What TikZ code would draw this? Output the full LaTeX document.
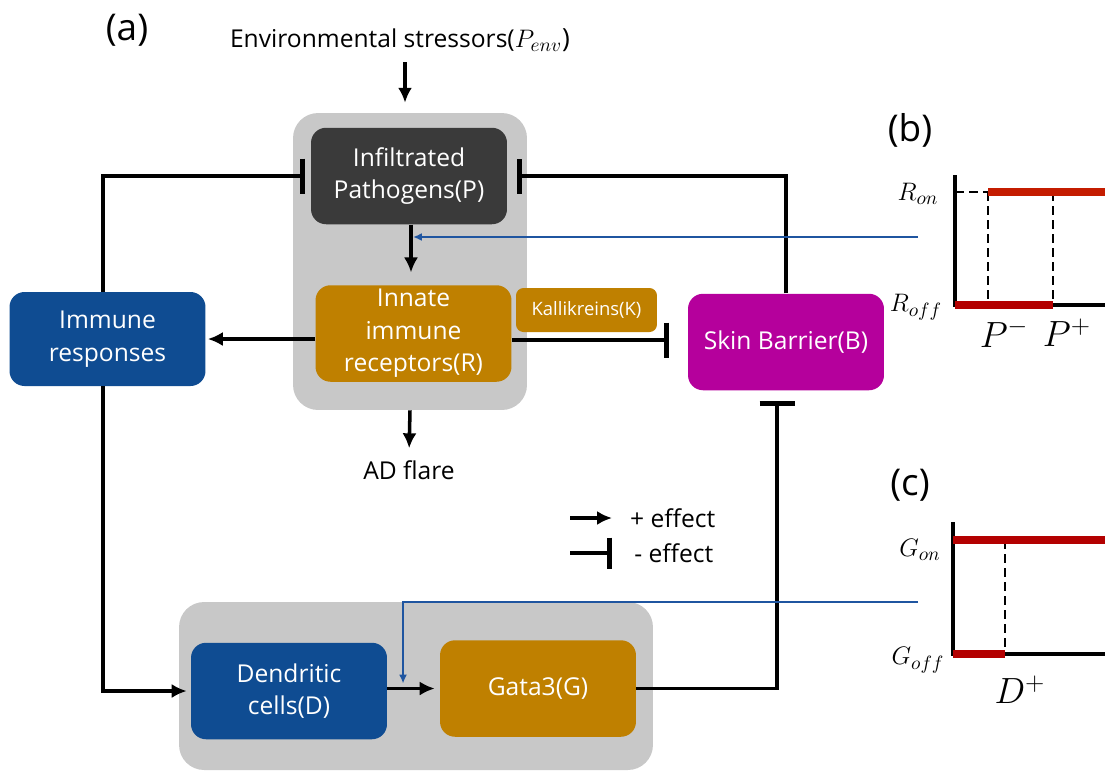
\documentclass[tikz,border=0pt]{standalone}
\usepackage{fontspec}
\setmainfont{Open Sans}
\usepackage{xcolor}
\usepackage{tikz}
\usetikzlibrary{arrows,arrows.meta,calc,positioning}

\definecolor{panelgray}{HTML}{C8C8C8}
\definecolor{pathogray}{HTML}{3A3A3A}
\definecolor{goldbox}{HTML}{BF8000}
\definecolor{navybox}{HTML}{0F4C92}
\definecolor{barrierpink}{HTML}{B5009C}
\definecolor{sigblue}{HTML}{1F55A0}
\definecolor{redtop}{HTML}{C41C00}
\definecolor{redlow}{HTML}{B30000}

\begin{document}
\begin{tikzpicture}[x=0.02cm, y=-0.02cm, >={Latex[length=8.5pt,width=8pt]},
  font=\fontsize{14}{18.5}\selectfont,
  box/.style={rounded corners=0.3cm, text=white, align=center, minimum width=3.92cm, minimum height=1.93cm, inner sep=2pt},
  patho/.style={box, fill=pathogray},
  gold/.style={box, fill=goldbox},
  navy/.style={box, fill=navybox},
  barrier/.style={box, fill=barrierpink},
  panel/.style={rounded corners=0.5cm, fill=panelgray, inner sep=0pt},
  act/.style={->, line width=2pt},
  inh/.style={-{Bar[width=0.7cm, line width=2.8pt]}, line width=2pt},
  sig/.style={-{Latex[length=5pt,width=4.5pt]}, draw=sigblue, line width=1.1pt},
  onoff/.style={line width=4.5pt},
  axis/.style={line width=1.8pt},
  guide/.style={dash pattern=on 5pt off 3pt, line width=0.8pt}]

\useasboundingbox (0,0) rectangle (1105,772);

% gray groups
\node[panel, minimum width=4.68cm, minimum height=5.94cm] (top) at (410,261.5) {};
\node[panel, minimum width=9.48cm, minimum height=3.36cm] (bottom) at (416,686) {};

% boxes
\node[patho] (P) at (409,176) {Infiltrated\\Pathogens(P)};
\node[gold] (R) at (413.5,333.5) {Innate\\immune\\receptors(R)};
\node[gold, minimum width=2.82cm, minimum height=0.88cm, rounded corners=0.15cm, font=\fontsize{10.5}{12}\selectfont] (K) at (586.5,310) {Kallikreins(K)};
\node[barrier] (B) at (786,342) {Skin Barrier(B)};
\node[navy, minimum height=1.88cm] (I) at (107.5,339) {Immune\\responses};
\node[navy] (D) at (289,691) {Dendritic\\cells(D)};
\node[gold] (G) at (538,688.5) {Gata3(G)};

% texts
\node[font=\fontsize{21}{24}\selectfont] (a) at (127,30) {(a)};
\node (E) at (400,40) {Environmental stressors(\fontsize{15}{18}\selectfont$P_{env}$)};
\node (AD) at (409,470) {AD flare};

% helper points
\coordinate (PR) at ($(P.south)+(2,0)$);
\coordinate (RB) at ($(R.east)+(0,6.5)$);
\coordinate (IP) at ($(I.north)+(-4.5,0)$);
\coordinate (ID) at ($(I.south)+(-4.5,0)$);
\coordinate (GB) at ($(B.south)+(-9,0)$);
\coordinate (EP) at (405,52);

% network
\draw[act, shorten <=0.2cm, shorten >=0.2cm] (EP) -- (EP |- top.north);
\draw[act, shorten >=0.25cm] (PR) -- (PR |- R.north);
\draw[act, shorten >=0.04cm] (R.west |- I.east) -- (I.east);
\draw[act, shorten >=0.12cm] (top.south) -- (AD.north);
\draw[inh, shorten >=0.12cm] (IP) |- (P.west);
\draw[inh, shorten >=0.2cm] (B.north) |- (P.east);
\draw[inh, shorten >=0.38cm] (RB) -- (RB -| B.west);
\draw[act, shorten >=0.08cm] (ID) |- (D.west);
\draw[act, shorten >=0.1cm] (D.east |- G.west) -- (G.west);
\draw[inh, shorten >=0.2cm] (G.east) -| (GB);

% switch signals
\coordinate (bsig) at (918,237);
\coordinate (csig) at (918,602);
\coordinate (DG) at ($(D.east |- G.west)!0.3!(G.west)+(0,-5)$);
\draw[sig, shorten >=0.08cm] (bsig) -- (bsig -| P.south);
\draw[sig] (csig) -| (DG);

% legend
\coordinate (plusA) at (570,518);
\coordinate (plusB) at (612,518);
\coordinate (minusA) at (570,553);
\coordinate (minusB) at (612,553);
\draw[act] (plusA) -- (plusB);
\draw[-{Bar[width=0.62cm, line width=2.8pt]}, line width=2pt] (minusA) -- (minusB);
\node[anchor=west] (plus) at (624,518) {+ effect};
\node[anchor=west] (minus) at (624,553) {\,- effect};

% (b) receptor switch
\node[font=\fontsize{21}{24}\selectfont] (b) at (910,130) {(b)};
\draw[axis] (955,175) -- (955,305) -- (1105,305);
\draw[guide] (955,192) -- (988,192) (988,192) -- (988,305) (1053,192) -- (1053,305);
\draw[onoff, redtop] (988,192) -- (1105,192);
\draw[onoff, redlow] (955,305) -- (1053,305);
\node[font=\fontsize{15}{18}\selectfont] (Ron) at (918,194) {$R_{on}$};
\node[font=\fontsize{15}{18}\selectfont] (Roff) at (916,307) {$R_{off}$};
\node[font=\fontsize{21}{24}\selectfont] (Pm) at (1004,333) {$P^-$};
\node[font=\fontsize{21}{24}\selectfont] (Pp) at (1067,333) {$P^+$};

% (c) gata3 switch
\node[font=\fontsize{21}{24}\selectfont] (c) at (910,485) {(c)};
\draw[axis] (953,522) -- (953,654) -- (1105,654);
\draw[guide] (1005,540) -- (1005,654);
\draw[onoff, redlow] (953,540) -- (1105,540);
\draw[onoff, redlow] (953,654) -- (1005,654);
\node[font=\fontsize{15}{18}\selectfont] (Gon) at (920,550) {$G_{on}$};
\node[font=\fontsize{15}{18}\selectfont] (Goff) at (918,660) {$G_{off}$};
\node[font=\fontsize{21}{24}\selectfont] (Dp) at (1020,690) {$D^+$};

\end{tikzpicture}
\end{document}
